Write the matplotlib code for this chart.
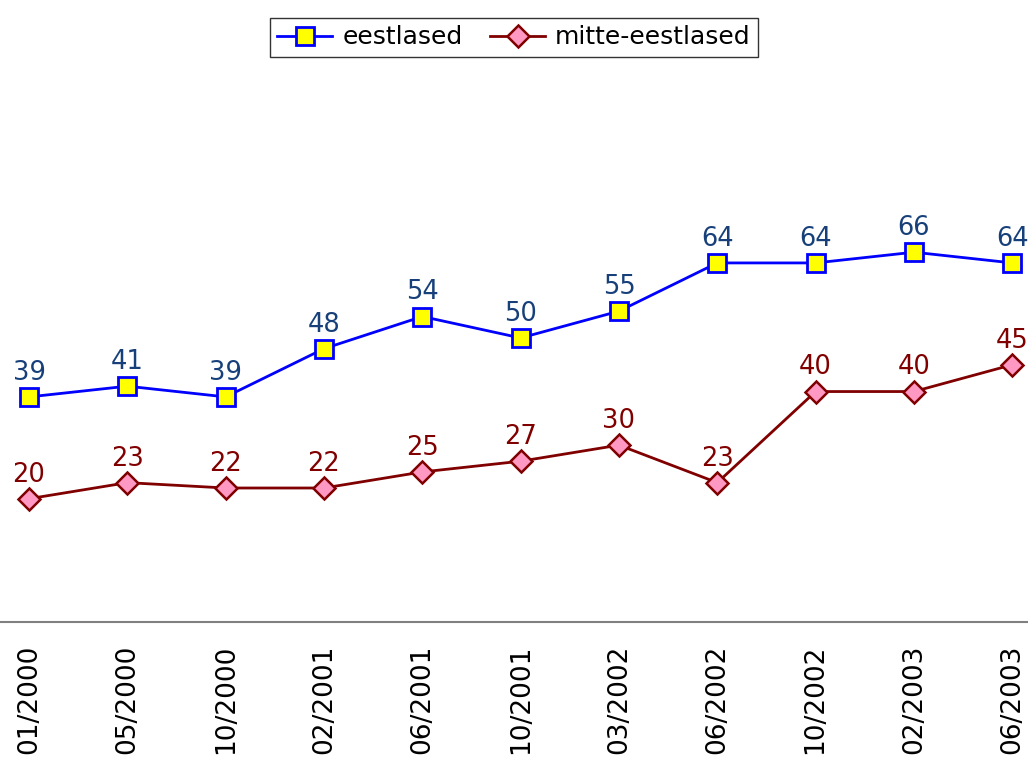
import matplotlib
matplotlib.use("Agg")
from matplotlib import pyplot as plt

# survey dates and shares (%)
dates = ['01/2000', '05/2000', '10/2000', '02/2001', '06/2001', '10/2001',
         '03/2002', '06/2002', '10/2002', '02/2003', '06/2003']
eestlased = [39, 41, 39, 48, 54, 50, 55, 64, 64, 66, 64]
mitte_eestlased = [20, 23, 22, 22, 25, 27, 30, 23, 40, 40, 45]

plt.rcParams['font.family'] = ['DejaVu Sans']

fig = plt.figure(figsize=(10.28, 7.6), dpi=100)
ax = fig.add_axes([0, 0.1816, 1, 0.7263])

x = list(range(len(dates)))
ax.plot(x, eestlased, color='#0000FF', lw=2, marker='s', ms=12.5,
        mfc='#FFFF00', mec='#0000FF', mew=2, label='eestlased', zorder=3)
ax.plot(x, mitte_eestlased, color='#800000', lw=2, marker='D', ms=11.5,
        mfc='#FF99C4', mec='#800000', mew=1.8, label='mitte-eestlased', zorder=3)

for i in range(len(x)):
    ax.annotate(str(eestlased[i]), (x[i], eestlased[i]), xytext=(0, 8),
                textcoords='offset points', ha='center', va='bottom',
                fontsize=18.5, color='#17407A', annotation_clip=False)
    ax.annotate(str(mitte_eestlased[i]), (x[i], mitte_eestlased[i]), xytext=(0, 8),
                textcoords='offset points', ha='center', va='bottom',
                fontsize=18.5, color='#800000', annotation_clip=False)

ax.set_xlim(-0.295, 10.16)
ax.set_ylim(-3, 100)
ax.set_xticks(x)
ax.set_xticklabels(dates, rotation=90, fontsize=19)
ax.set_yticks([])
ax.tick_params(axis='x', length=0, pad=16)
for s in ['top', 'left', 'right']:
    ax.spines[s].set_visible(False)
ax.spines['bottom'].set_color('#808080')
ax.spines['bottom'].set_linewidth(1.5)
ax.patch.set_alpha(0)

leg = fig.legend(loc='upper center', bbox_to_anchor=(0.5, 0.993), ncol=2,
                 fontsize=18, frameon=True, fancybox=False, edgecolor='#000000',
                 borderpad=0.3, handlelength=2.2, handletextpad=0.4,
                 columnspacing=1.1)
leg.get_frame().set_linewidth(1)

fig.savefig('out.png', dpi=100)
